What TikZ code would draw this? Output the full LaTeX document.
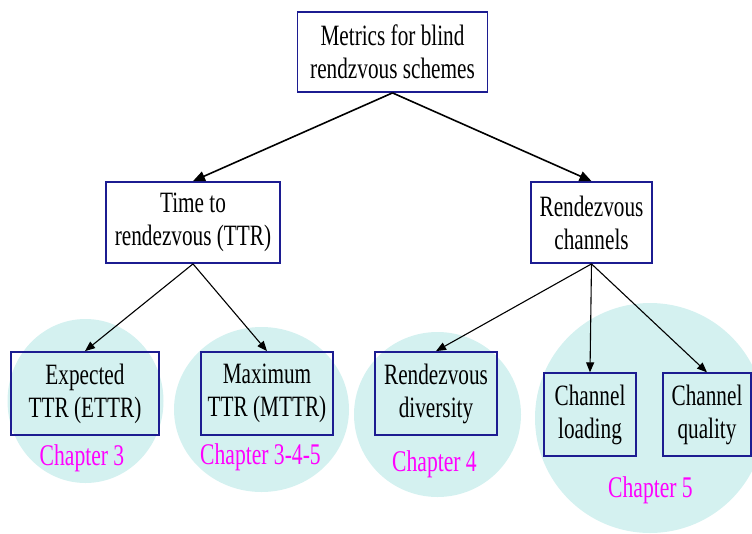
\documentclass[tikz,border=0pt]{standalone}
\usepackage{fontspec}
\setmainfont{Liberation Serif}[FakeStretch=0.72]
\usetikzlibrary{arrows.meta}
\definecolor{boxblue}{RGB}{28,28,145}
\definecolor{chapfill}{RGB}{212,241,240}
\definecolor{chapink}{RGB}{255,0,255}
\tikzset{
  metric/.style={draw=boxblue, line width=1.8pt, inner sep=0pt, align=center,
    font=\fontsize{29.5}{33}\selectfont},
  chapzone/.style={fill=chapfill, draw=none},
  chaplabel/.style={text=chapink, anchor=base, inner sep=0pt,
    font=\fontsize{30}{33}\selectfont},
  mainlink/.style={line width=1.6pt, -{Triangle[length=12pt, width=10pt]}},
  sublink/.style={line width=1.1pt, -{Triangle[length=10pt, width=8pt]}}
}
\begin{document}
\begin{tikzpicture}[x=1pt, y=-1pt]
  \useasboundingbox (0,0) rectangle (752,533);
  \clip (0,0) rectangle (752,533);

  % shaded chapter areas
  \fill[chapzone] (85.5,401) ellipse [x radius=78, y radius=82];
  \fill[chapzone] (261.5,409.5) ellipse [x radius=87.5, y radius=82.5];
  \fill[chapzone] (437.5,414.5) ellipse [x radius=83.5, y radius=82.5];
  \fill[chapzone] (650,418) circle [radius=115];

  % hierarchy of metrics
  \node[metric, minimum width=190, minimum height=80] (top) at (392.5,52)
    {Metrics for blind\\rendzvous schemes};
  \node[metric, minimum width=174, minimum height=81] (ttr) at (193,222.5)
    {Time to\\rendezvous (TTR)};
  \node[metric, minimum width=121, minimum height=81] (rc) at (591.5,222.5)
    {Rendezvous\\channels};
  \node[metric, minimum width=148, minimum height=83] (ettr) at (85,393.5)
    {Expected\\TTR (ETTR)};
  \node[metric, minimum width=132, minimum height=83] (mttr) at (267,393.5)
    {Maximum\\TTR (MTTR)};
  \node[metric, minimum width=122, minimum height=83] (div) at (436,393.5)
    {Rendezvous\\diversity};
  \node[metric, line width=1.3pt, minimum width=92, minimum height=83] (load) at (590,414.5)
    {Channel\\loading};
  \node[metric, line width=1.3pt, minimum width=88, minimum height=83] (qual) at (707,414.5)
    {Channel\\quality};

  % chapter references
  \node[chaplabel] (ch3) at (82,465) {Chapter 3};
  \node[chaplabel] (ch345) at (260.5,464) {Chapter 3-4-5};
  \node[chaplabel] (ch4) at (434.5,471) {Chapter 4};
  \node[chaplabel] (ch5) at (650.5,497) {Chapter 5};

  % connectors
  \draw[mainlink] (top.south) -- (ttr.north);
  \draw[mainlink] (top.south) -- (rc.north);
  \draw[sublink] (ttr.south) -- (ettr.north);
  \draw[sublink] (ttr.south) -- (mttr.north);
  \draw[sublink] (rc.south) -- (div.north);
  \draw[sublink] (rc.south) -- (load.north);
  \draw[sublink] (rc.south) -- (qual.north);
\end{tikzpicture}
\end{document}
